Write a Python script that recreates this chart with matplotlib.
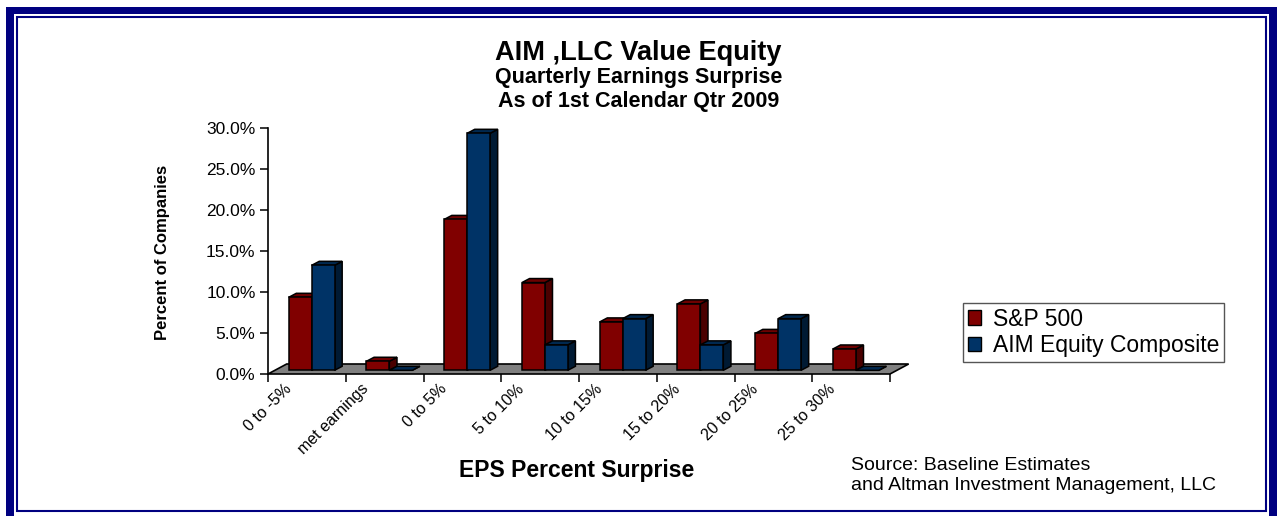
import matplotlib.pyplot as plt
from matplotlib.patches import Polygon, Rectangle, Patch

plt.rcParams['font.family'] = ['Liberation Sans', 'DejaVu Sans']

# data (percent of companies)
categories = ['0 to -5%', 'met earnings', '0 to 5%', '5 to 10%',
              '10 to 15%', '15 to 20%', '20 to 25%', '25 to 30%']
sp500 = [8.9, 1.1, 18.4, 10.7, 5.9, 8.1, 4.5, 2.6]
aim_equity = [12.8, 0.0, 28.9, 3.1, 6.3, 3.1, 6.3, 0.0]
series_names = ['S&P 500', 'AIM Equity Composite']
yticks = [0, 5, 10, 15, 20, 25, 30]

W, H = 1277, 516
NAVY = '#000080'

# 3d look
BAR_W = 0.295
BAR_X0 = 0.266
BASE = 0.45
DX, DY = 0.098, 0.49
FLOOR_DX, FLOOR_DY = 0.24, 1.22

fig = plt.figure(figsize=(W / 100, H / 100), dpi=100)

# page frame
fig.add_artist(Rectangle((6 / W, 0), (W - 6) / W, (H - 7) / H, transform=fig.transFigure,
                         facecolor=NAVY, edgecolor='none', zorder=-10))
fig.add_artist(Rectangle((14 / W, 0), (1269 - 14) / W, (H - 14) / H, transform=fig.transFigure,
                         facecolor='white', edgecolor='none', zorder=-9))
fig.add_artist(Rectangle((17 / W, (H - 511) / H), (1266 - 17) / W, (511 - 17) / H,
                         transform=fig.transFigure, fill=False, edgecolor=NAVY,
                         linewidth=1.5, zorder=-8))

ax = fig.add_axes([268 / W, (H - 374) / H, (890 - 268) / W, (374 - 128) / H])
ax.patch.set_visible(False)
ax.set_xlim(0, len(categories))
ax.set_ylim(0, 30)

for s in ['top', 'right', 'bottom']:
    ax.spines[s].set_visible(False)
ax.spines['left'].set_linewidth(1.2)

# floor
n = len(categories)
floor = Polygon([(0, 0), (n, 0), (n + FLOOR_DX, FLOOR_DY), (FLOOR_DX, FLOOR_DY)],
                closed=True, facecolor='#808080', edgecolor='black', linewidth=1.2,
                clip_on=False, zorder=1)
ax.add_patch(floor)


def bar3d(x, h, face, side, top):
    b = BASE
    kw = dict(edgecolor='black', linewidth=1.1, clip_on=False, zorder=2)
    ax.add_patch(Polygon([(x + BAR_W, b), (x + BAR_W + DX, b + DY),
                          (x + BAR_W + DX, b + h + DY), (x + BAR_W, b + h)],
                         facecolor=side, **kw))
    ax.add_patch(Polygon([(x, b + h), (x + DX, b + h + DY),
                          (x + BAR_W + DX, b + h + DY), (x + BAR_W, b + h)],
                         facecolor=top, **kw))
    if h > 0:
        ax.add_patch(Rectangle((x, b), BAR_W, h, facecolor=face, **kw))


for i in range(n):
    x0 = i + BAR_X0
    bar3d(x0, sp500[i], '#800000', '#4a0000', '#6e0000')
    bar3d(x0 + BAR_W, aim_equity[i], '#003366', '#001a33', '#00284f')

ax.set_yticks(yticks)
ax.set_yticklabels(['{:.1f}%'.format(v) for v in yticks])
ax.set_xticks(range(n + 1))
ax.set_xticklabels([])
ax.tick_params(axis='both', direction='out', length=6, width=1.1, color='black')
ax.tick_params(axis='y', labelsize=12.5, pad=3)

for i, cat in enumerate(categories):
    ax.text(i + 0.2, -0.9, cat, rotation=45, rotation_mode='anchor',
            ha='right', va='top', fontsize=11.5)

# titles and labels
fig.text(0.5, 1 - 53 / H, 'AIM ,LLC Value Equity', ha='center', va='center',
         fontsize=19.5, fontweight='bold')
fig.text(0.5, 1 - 77 / H, 'Quarterly Earnings Surprise', ha='center', va='center',
         fontsize=15.5, fontweight='bold')
fig.text(0.5, 1 - 101 / H, 'As of 1st Calendar Qtr 2009', ha='center', va='center',
         fontsize=15.5, fontweight='bold')
fig.text(163 / W, 1 - 252 / H, 'Percent of Companies', rotation=90, ha='center',
         va='center', fontsize=12, fontweight='bold')
fig.text(577 / W, 1 - 471 / H, 'EPS Percent Surprise', ha='center', va='center',
         fontsize=16.5, fontweight='bold')
fig.text(851 / W, 1 - 465 / H, 'Source: Baseline Estimates', ha='left', va='center',
         fontsize=14)
fig.text(851 / W, 1 - 485 / H, 'and Altman Investment Management, LLC', ha='left',
         va='center', fontsize=14)

handles = [Patch(facecolor='#800000', edgecolor='black'),
           Patch(facecolor='#003366', edgecolor='black')]
leg = fig.legend(handles, series_names, loc='upper left',
                 bbox_to_anchor=(963 / W, 1 - 303 / H), fontsize=16.5,
                 frameon=True, fancybox=False, edgecolor='#555555', framealpha=1,
                 handlelength=0.6, handleheight=0.6, handletextpad=0.5,
                 labelspacing=0.15, borderpad=0.2, borderaxespad=0)
leg.get_frame().set_linewidth(1.0)

fig.savefig('out.png', dpi=100)
